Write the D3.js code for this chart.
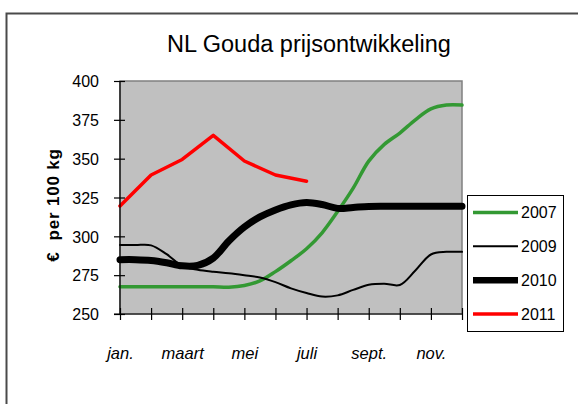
<!DOCTYPE html>
<html><head><meta charset="utf-8">
<script src="https://cdn.jsdelivr.net/npm/d3@7"></script>
<style>
html,body{margin:0;padding:0;background:#fff;}
svg{display:block;font-family:"Liberation Sans",Arial,sans-serif;}
</style></head>
<body>
<svg id="chart" width="578" height="404"></svg>
<script>
// ---- data ----
const title = "NL Gouda prijsontwikkeling";
const yTitle = "€  per 100 kg";
const months = ["jan.","feb.","maart","april","mei","juni","juli","aug.","sept.","okt.","nov.","dec."];
const shownMonthLabels = ["jan.","maart","mei","juli","sept.","nov."];
const yTicks = [250,275,300,325,350,375,400];
// sample positions in months (0 = jan., 11 = dec.), half-month steps
const samplePos = [0,0.5,1,1.5,2,2.5,3,3.5,4,4.5,5,5.5,6,6.5,7,7.5,8,8.5,9,9.5,10,10.5,11];
const values2007 = [267.6,267.6,267.6,267.6,267.6,267.6,267.6,267.3,268.3,271.3,277.3,284.3,292.0,302.3,316.0,331.0,348.4,359.2,366.5,375.0,382.0,384.5,384.5];
const values2009 = [294.4,294.4,294.2,288.5,281.0,278.5,277.2,276.3,275.0,273.5,270.5,266.5,263.5,261.2,262.0,265.5,268.8,269.5,268.7,278.0,288.3,290.0,290.0];
const values2010 = [285.0,285.0,284.5,283.0,281.0,281.3,286.0,297.0,306.0,312.5,317.0,320.3,321.8,320.5,318.0,318.6,319.2,319.3,319.3,319.3,319.3,319.3,319.3];
const monthPos2011 = [0,1,2,3,4,5,6];
const values2011 = [319.5,339.5,349.5,365.0,348.5,339.5,335.5];
const seriesNames = ["2007","2009","2010","2011"];

// ---- styles ----
const styles = {
  "2007": {color:"#339933", width:3.5, smooth:true},
  "2009": {color:"#000000", width:2, smooth:true},
  "2010": {color:"#000000", width:7, smooth:true},
  "2011": {color:"#ff0000", width:3.5, smooth:false}
};

const svg = d3.select("#chart");
const plot = {left:120, right:462, top:81, bottom:314};

const x = d3.scaleLinear().domain([0, months.length-1]).range([plot.left, plot.right]);
const y = d3.scaleLinear().domain([250,400]).range([plot.bottom, plot.top]);

// outer chart border
svg.append("rect").attr("x",6.5).attr("y",13.5).attr("width",600).attr("height",420)
  .attr("fill","#fff").attr("stroke","#4a4a4a").attr("stroke-width",2);

// title
svg.append("text").attr("x",309).attr("y",52).attr("text-anchor","middle")
  .attr("font-size",23.5).attr("fill","#000").text(title);

// plot background
svg.append("rect").attr("x",plot.left).attr("y",plot.top)
  .attr("width",plot.right-plot.left).attr("height",plot.bottom-plot.top)
  .attr("fill","#c0c0c0").attr("stroke","#808080").attr("stroke-width",1.5);

// series
const data = {
  "2007": samplePos.map((p,i)=>[p,values2007[i]]),
  "2009": samplePos.map((p,i)=>[p,values2009[i]]),
  "2010": samplePos.map((p,i)=>[p,values2010[i]]),
  "2011": monthPos2011.map((p,i)=>[p,values2011[i]])
};
const drawOrder = ["2007","2009","2010","2011"];
drawOrder.forEach(name=>{
  const st = styles[name];
  const line = d3.line().x(d=>x(d[0])).y(d=>y(d[1]))
    .curve(st.smooth ? d3.curveCatmullRom.alpha(0.5) : d3.curveLinear);
  svg.append("path").datum(data[name]).attr("d",line)
    .attr("fill","none").attr("stroke",st.color).attr("stroke-width",st.width)
    .attr("stroke-linejoin","round").attr("stroke-linecap","round");
});

// y axis
const yAxis = d3.axisLeft(y).tickValues(yTicks).tickSize(0).tickPadding(0);
const gy = svg.append("g").attr("transform",`translate(${plot.left},0)`).call(yAxis);
gy.select(".domain").remove();
gy.selectAll(".tick text").remove();
svg.append("line").attr("x1",plot.left).attr("x2",plot.left).attr("y1",plot.top).attr("y2",plot.bottom)
  .attr("stroke","#000").attr("stroke-width",1.2);
gy.selectAll(".tick").append("line").attr("x1",-6).attr("x2",5).attr("stroke","#000").attr("stroke-width",1.2);
gy.selectAll(".tick").append("text").attr("x",-21).attr("dy","0.36em")
  .attr("text-anchor","end").attr("font-size",16).attr("fill","#000").text(d=>d);

// x axis
const xAxis = d3.axisBottom(x).tickValues(d3.range(months.length)).tickSize(0).tickFormat("");
const gx = svg.append("g").attr("transform",`translate(0,${plot.bottom})`).call(xAxis);
gx.select(".domain").remove();
svg.append("line").attr("x1",plot.left-6).attr("x2",plot.right).attr("y1",plot.bottom).attr("y2",plot.bottom)
  .attr("stroke","#000").attr("stroke-width",1.2);
gx.selectAll(".tick").append("line").attr("y1",-6).attr("y2",6).attr("stroke","#000").attr("stroke-width",1.2);
gx.selectAll(".tick").append("text").attr("y",45).attr("text-anchor","middle")
  .attr("font-size",16.5).attr("font-style","italic").attr("fill","#000")
  .text(i=> shownMonthLabels.includes(months[i]) ? months[i] : "");

// y axis title
svg.append("text").attr("transform","translate(59,205) rotate(-90)")
  .attr("text-anchor","middle").attr("font-size",17).attr("font-weight","bold")
  .attr("letter-spacing",0.8).style("white-space","pre")
  .attr("fill","#000").text(yTitle);

// legend
const leg = svg.append("g");
leg.append("rect").attr("x",467.5).attr("y",195.5).attr("width",96).attr("height",136)
  .attr("fill","#fff").attr("stroke","#000").attr("stroke-width",1);
const legRowY = d3.scalePoint().domain(seriesNames).range([212.5,314]);
seriesNames.forEach(name=>{
  const st = styles[name];
  const yy = legRowY(name);
  leg.append("line").attr("x1",473).attr("x2",518).attr("y1",yy).attr("y2",yy)
    .attr("stroke",st.color).attr("stroke-width",Math.min(st.width,6.5));
  leg.append("text").attr("x",521).attr("y",yy).attr("dy","0.36em")
    .attr("font-size",16).attr("fill","#000").text(name);
});
</script>
</body></html>
